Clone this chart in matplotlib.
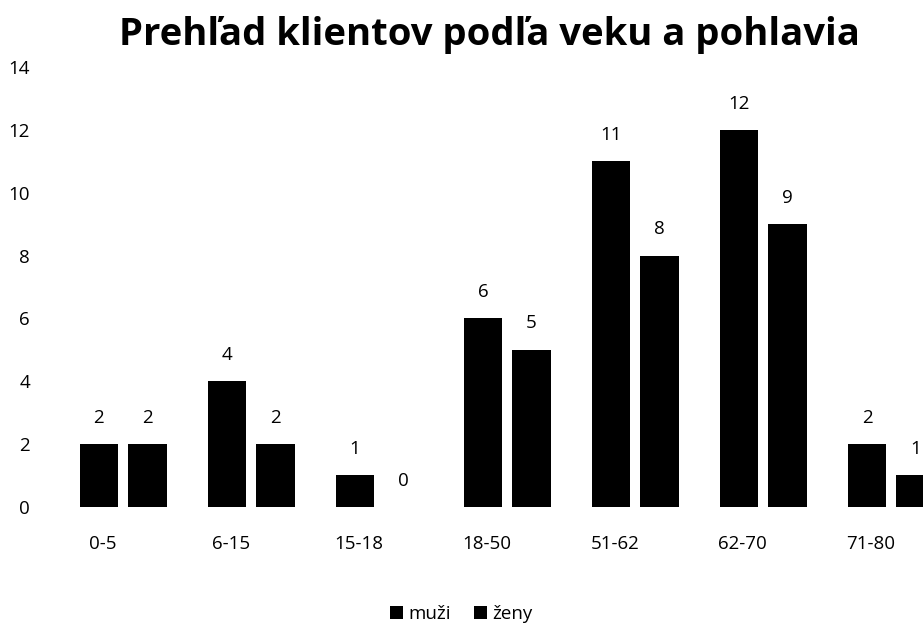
import matplotlib
matplotlib.use("Agg")
import matplotlib.pyplot as plt
import numpy as np

categories = ["0-5", "6-15", "15-18", "18-50", "51-62", "62-70", "71-80"]
muzi = [2, 4, 1, 6, 11, 12, 2]
zeny = [2, 2, 0, 5, 8, 9, 1]

plt.rcParams['font.family'] = ['Open Sans', 'DejaVu Sans']

fig = plt.figure(figsize=(9.23, 6.32), dpi=100)
ax = fig.add_axes([0.064, 0.198, 0.971, 0.696])

x = np.arange(len(categories))
w = 0.30
b1 = ax.bar(x - 0.19, muzi, w, color='black', label='muži')
b2 = ax.bar(x + 0.19, zeny, w, color='black', label='ženy')

for bars, vals in ((b1, muzi), (b2, zeny)):
    for r, v in zip(bars, vals):
        ax.text(r.get_x() + r.get_width() / 2, v + 0.55, str(v),
                ha='center', va='bottom', fontsize=13.5)

ax.set_xlim(-0.5, len(categories) - 0.5)
ax.set_ylim(0, 14)
ax.set_yticks(range(0, 15, 2))
ax.set_xticks(x - 0.16)
ax.set_xticklabels(categories)
ax.tick_params(axis='both', length=0, labelsize=13.5)
ax.tick_params(axis='x', pad=20)
ax.tick_params(axis='y', pad=21)
for s in ax.spines.values():
    s.set_visible(False)

fig.suptitle("Prehľad klientov podľa veku a pohlavia", fontsize=27.5,
             fontweight='bold', x=0.53, y=0.975)

fig.legend(loc='lower center', bbox_to_anchor=(0.5, -0.012), ncol=2,
           frameon=False, fontsize=13.5, handlelength=0.7, handleheight=0.7,
           handletextpad=0.3, columnspacing=1.2)

fig.savefig("out.png", dpi=100)
